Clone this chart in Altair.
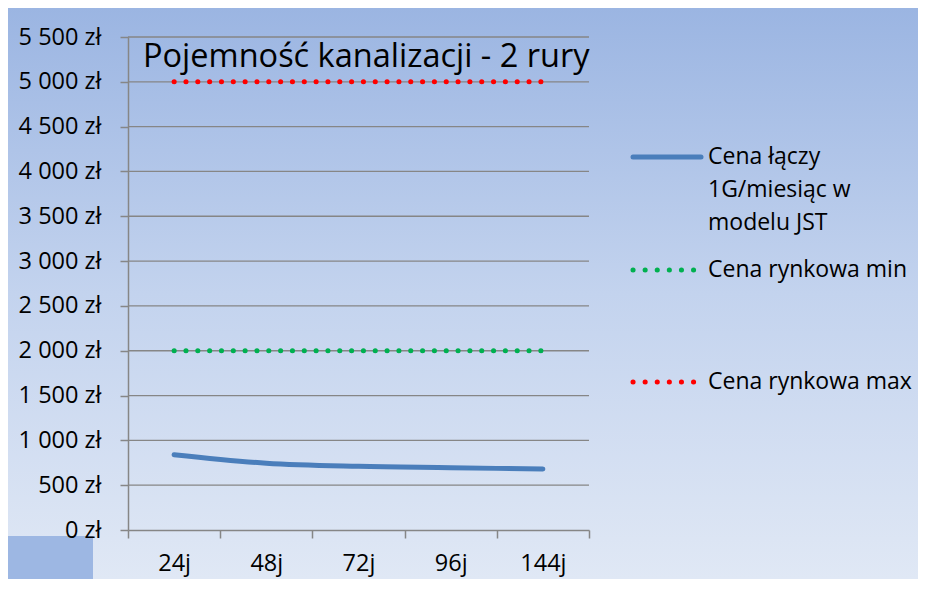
import altair as alt
import pandas as pd

categories = ["24j", "48j", "72j", "96j", "144j"]
jst_price = [840, 745, 710, 695, 680]
market_min = [2000, 2000, 2000, 2000, 2000]
market_max = [5000, 5000, 5000, 5000, 5000]
y_ticks = [0, 500, 1000, 1500, 2000, 2500, 3000, 3500, 4000, 4500, 5000, 5500]
grid_values = [500, 1000, 1500, 2000, 2500, 3000, 3500, 4000, 4500, 5000, 5500]
title_text = "Pojemność kanalizacji - 2 rury"
legend_jst_lines = ["Cena łączy", "1G/miesiąc w", "modelu JST"]
legend_min = "Cena rynkowa min"
legend_max = "Cena rynkowa max"

FONT = "Open Sans"
W, H = 461, 493
PL, PT, PR, PB = 120, 29, 329, 49
AXIS_GRAY = "#868686"
BLUE = "#4A7EBB"
GREEN = "#00B050"
RED = "#FF0000"
LABEL_SIZE = 23.5
LEGEND_SIZE = 23

rows = []
for c, a, b, m in zip(categories, jst_price, market_min, market_max):
    rows.append({"cat": c, "series": "jst", "value": a})
    rows.append({"cat": c, "series": "min", "value": b})
    rows.append({"cat": c, "series": "max", "value": m})
df = pd.DataFrame(rows)
grid_df = pd.DataFrame({"value": grid_values})
one = pd.DataFrame({"a": [0]})

x_enc = alt.X(
    "cat:N",
    sort=categories,
    bandPosition=0.5,
    scale=alt.Scale(type="band", paddingInner=0, paddingOuter=0, domain=categories),
    axis=alt.Axis(
        title=None, tickBand="extent", grid=False, labelAngle=0,
        domainColor=AXIS_GRAY, domainWidth=1.5, tickColor=AXIS_GRAY,
        tickSize=8, tickWidth=1.5, labelFont=FONT, labelFontSize=LABEL_SIZE,
        labelColor="black", labelPadding=13, zindex=1,
    ),
)

y_enc = alt.Y(
    "value:Q",
    scale=alt.Scale(domain=[0, 5500], nice=False, zero=True),
    axis=alt.Axis(
        title=None, values=y_ticks, grid=False,
        labelExpr="replace(format(datum.value, ','), ',', ' ') + ' zł'",
        domainColor=AXIS_GRAY, domainWidth=1.5, tickColor=AXIS_GRAY,
        tickSize=8, tickWidth=1.5, labelFont=FONT, labelFontSize=LABEL_SIZE,
        labelColor="black", labelPadding=19, zindex=1,
    ),
)

bg = alt.Chart(one).mark_rect(
    fill=alt.Gradient(
        gradient="linear",
        stops=[alt.GradientStop(color="#9BB5E2", offset=0),
               alt.GradientStop(color="#C3D3EE", offset=0.5),
               alt.GradientStop(color="#E0E8F5", offset=1)],
        x1=0, x2=0, y1=0, y2=1,
    )
).encode(x=alt.value(-PL), x2=alt.value(W + PR), y=alt.value(-PT), y2=alt.value(H + PB))

patch = alt.Chart(one).mark_rect(color="#9DB7E3").encode(
    x=alt.value(-PL), x2=alt.value(-35), y=alt.value(499), y2=alt.value(H + PB)
)

grid = alt.Chart(grid_df).mark_rule(color=AXIS_GRAY, strokeWidth=1.3).encode(
    y=y_enc, x=alt.value(0), x2=alt.value(W)
)

base = alt.Chart(df)
line_jst = base.transform_filter(alt.datum.series == "jst").mark_line(
    interpolate="monotone", strokeWidth=5, color=BLUE, strokeCap="round"
).encode(x=x_enc, y=y_enc)
line_min = base.transform_filter(alt.datum.series == "min").mark_line(
    strokeWidth=5, color=GREEN, strokeCap="round", strokeDash=[0.1, 11.73]
).encode(x=x_enc, y=y_enc)
line_max = base.transform_filter(alt.datum.series == "max").mark_line(
    strokeWidth=5, color=RED, strokeCap="round", strokeDash=[0.1, 11.73]
).encode(x=x_enc, y=y_enc)

title = alt.Chart(one).mark_text(
    text=title_text, font=FONT, fontSize=32.5, align="left", baseline="alphabetic", color="black"
).encode(x=alt.value(15), y=alt.value(30))


def legend_text(txt, y):
    return alt.Chart(one).mark_text(
        text=txt, font=FONT, fontSize=LEGEND_SIZE, align="left", baseline="middle", color="black"
    ).encode(x=alt.value(580), y=alt.value(y))


leg_line1 = alt.Chart(one).mark_rule(color=BLUE, strokeWidth=5, strokeCap="round").encode(
    x=alt.value(505), x2=alt.value(573), y=alt.value(120)
)
leg_line2 = alt.Chart(one).mark_rule(color=GREEN, strokeWidth=5, strokeCap="round", strokeDash=[0.1, 12]).encode(
    x=alt.value(505), x2=alt.value(566), y=alt.value(233)
)
leg_line3 = alt.Chart(one).mark_rule(color=RED, strokeWidth=5, strokeCap="round", strokeDash=[0.1, 12]).encode(
    x=alt.value(505), x2=alt.value(566), y=alt.value(345)
)

texts = [
    legend_text(legend_jst_lines[0], 120),
    legend_text(legend_jst_lines[1], 153),
    legend_text(legend_jst_lines[2], 186),
    legend_text(legend_min, 233),
    legend_text(legend_max, 345),
]

chart = alt.layer(
    bg, patch, grid, line_min, line_max, line_jst, title,
    leg_line1, leg_line2, leg_line3, *texts,
).properties(
    width=W, height=H,
    padding={"left": PL, "top": PT, "right": PR, "bottom": PB},
    autosize=alt.AutoSizeParams(type="none"),
).configure_view(strokeWidth=0)

chart.save("out.html", embed_options={"renderer": "svg", "actions": False})
